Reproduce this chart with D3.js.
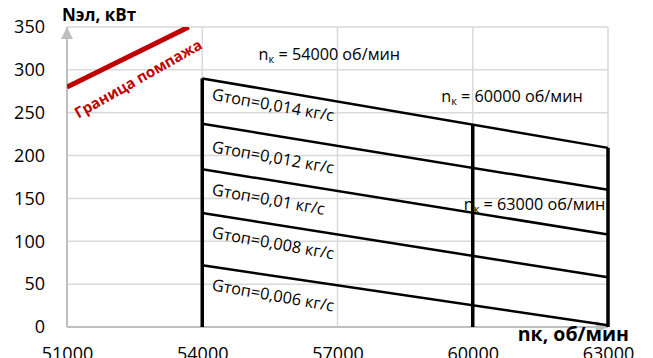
<!DOCTYPE html>
<html>
<head>
<meta charset="utf-8">
<script src="https://cdn.jsdelivr.net/npm/d3@7"></script>
<style>
  body { margin: 0; background: #fff; }
  svg { font-family: "Open Sans", "Liberation Sans", sans-serif; }
</style>
</head>
<body>
<div id="chart"></div>
<script>
// chart data
var xTicks = [51000, 54000, 57000, 60000, 63000];
var yTicks = [0, 50, 100, 150, 200, 250, 300, 350];

// fuel flow lines, N at nk = 54000 and nk = 63000
var gLabels = ["0,014", "0,012", "0,01", "0,008", "0,006"];
var nStart = [290, 237, 184, 133, 72];
var nEnd = [209, 160, 108, 58, 2];

// constant speed lines
var nkLines = [54000, 60000, 63000];
var nkTops = [290, 236, 209];

// surge boundary
var surgeNk = [51000, 53700];
var surgeN = [280, 350];

// label anchors (nk, N)
var gLabelNk = [54200, 54200, 54200, 54200, 54200];
var gLabelN = [265, 204, 154, 104, 43];
var nkLabelNk = [55250, 59300, 59800];
var nkLabelN = [311, 263, 136];

var svgWidth = 653;
var svgHeight = 358;

var svg = d3.select("#chart")
  .append("svg")
  .attr("width", svgWidth)
  .attr("height", svgHeight);

var x = d3.scaleLinear().domain([51000, 63000]).range([67, 608]);
var y = d3.scaleLinear().domain([0, 350]).range([327, 27]);

svg.append("defs").append("clipPath")
  .attr("id", "plotClip")
  .append("rect")
  .attr("x", x(51000))
  .attr("y", y(350))
  .attr("width", x(63000) - x(51000) + 4)
  .attr("height", y(0) - y(350));

// gridlines
svg.append("g")
  .selectAll("line")
  .data(yTicks.slice(1))
  .enter()
  .append("line")
  .attr("x1", x(51000))
  .attr("x2", x(63000))
  .attr("y1", d => y(d))
  .attr("y2", d => y(d))
  .attr("stroke", "#d9d9d9")
  .attr("stroke-width", 1.5);

svg.append("g")
  .selectAll("line")
  .data(xTicks.slice(1))
  .enter()
  .append("line")
  .attr("x1", d => x(d))
  .attr("x2", d => x(d))
  .attr("y1", y(0))
  .attr("y2", y(350))
  .attr("stroke", "#d9d9d9")
  .attr("stroke-width", 1.5);

// axes with arrow heads
svg.append("line")
  .attr("x1", x(51000)).attr("x2", x(51000))
  .attr("y1", y(0)).attr("y2", y(350))
  .attr("stroke", "#bfbfbf").attr("stroke-width", 2);
svg.append("path")
  .attr("d", `M${x(51000) - 6},${y(350) + 12} L${x(51000)},${y(350)} L${x(51000) + 6},${y(350) + 12} Z`)
  .attr("fill", "#bfbfbf");

svg.append("line")
  .attr("x1", x(51000)).attr("x2", x(63000))
  .attr("y1", y(0)).attr("y2", y(0))
  .attr("stroke", "#bfbfbf").attr("stroke-width", 2);
svg.append("path")
  .attr("d", `M${x(63000) - 12},${y(0) - 6} L${x(63000)},${y(0)} L${x(63000) - 12},${y(0) + 6} Z`)
  .attr("fill", "#bfbfbf");

// tick labels
var yAxis = d3.axisLeft(y).tickValues(yTicks).tickSize(0).tickPadding(0);
var yAxisG = svg.append("g")
  .attr("transform", `translate(${x(51000) - 22},0)`)
  .call(yAxis);
yAxisG.select(".domain").remove();
yAxisG.selectAll("text")
  .style("font-family", "'Open Sans', sans-serif")
  .style("font-size", "18px")
  .attr("fill", "#000");

var xAxis = d3.axisBottom(x).tickValues(xTicks).tickSize(0).tickPadding(0).tickFormat(d3.format("d"));
var xAxisG = svg.append("g")
  .attr("transform", `translate(0,${y(0) + 20})`)
  .call(xAxis);
xAxisG.select(".domain").remove();
xAxisG.selectAll("text")
  .style("font-family", "'Open Sans', sans-serif")
  .style("font-size", "18px")
  .attr("fill", "#000");

// axis titles
svg.append("text")
  .attr("x", 62)
  .attr("y", 21)
  .attr("font-weight", "bold")
  .attr("font-size", 17)
  .text("Nэл, кВт");

svg.append("text")
  .attr("x", 629)
  .attr("y", 341)
  .attr("text-anchor", "end")
  .attr("font-weight", "bold")
  .attr("font-size", 19.5)
  .text("nк, об/мин");

var plot = svg.append("g").attr("clip-path", "url(#plotClip)");

// surge line
var surgeData = surgeNk.map((d, i) => [d, surgeN[i]]);
plot.append("path")
  .datum(surgeData)
  .attr("d", d3.line().x(d => x(d[0])).y(d => y(d[1])))
  .attr("stroke", "#c00000")
  .attr("stroke-width", 5)
  .attr("fill", "none");

svg.append("text")
  .attr("transform", `translate(${x(51250)},${y(243)}) rotate(-29.5)`)
  .attr("fill", "#c00000")
  .attr("font-weight", "bold")
  .attr("font-size", 15)
  .text("Граница помпажа");

// fuel flow lines
plot.append("g")
  .selectAll("line")
  .data(gLabels)
  .enter()
  .append("line")
  .attr("x1", x(54000))
  .attr("x2", x(63000))
  .attr("y1", (d, i) => y(nStart[i]))
  .attr("y2", (d, i) => y(nEnd[i]))
  .attr("stroke", "#000")
  .attr("stroke-width", 2.5);

// constant speed lines
plot.append("g")
  .selectAll("line")
  .data(nkLines)
  .enter()
  .append("line")
  .attr("x1", d => x(d))
  .attr("x2", d => x(d))
  .attr("y1", y(0))
  .attr("y2", (d, i) => y(nkTops[i]))
  .attr("stroke", "#000")
  .attr("stroke-width", 3.5);

// fuel flow labels
svg.append("g")
  .selectAll("text")
  .data(gLabels)
  .enter()
  .append("text")
  .attr("transform", (d, i) => `translate(${x(gLabelNk[i])},${y(gLabelN[i])}) rotate(10)`)
  .attr("font-size", 16.3)
  .text(d => `Gтоп=${d} кг/с`);

// speed labels
var nkText = svg.append("g")
  .selectAll("text")
  .data(nkLines)
  .enter()
  .append("text")
  .attr("x", (d, i) => x(nkLabelNk[i]))
  .attr("y", (d, i) => y(nkLabelN[i]))
  .attr("font-size", 16.2);
nkText.append("tspan").text("n");
nkText.append("tspan").attr("font-size", 11).attr("dy", 3).text("к");
nkText.append("tspan").attr("dy", -3).text(d => ` = ${d} об/мин`);
</script>
</body>
</html>
